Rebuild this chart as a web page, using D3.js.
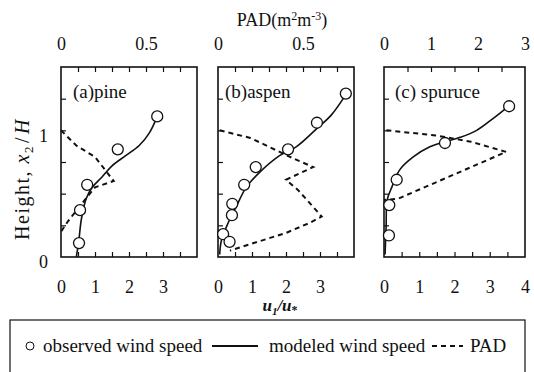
<!DOCTYPE html>
<html>
<head>
<meta charset="utf-8">
<script src="https://cdn.jsdelivr.net/npm/d3@7"></script>
<style>
  body { margin: 0; background: #fff; }
  svg { display: block; }
  text { font-family: "Liberation Serif", "Times New Roman", serif; fill: #111; }
</style>
</head>
<body>
<svg id="chart" width="534" height="372"></svg>
<script>
// panel titles and tick labels
var panelNames = ["(a)pine", "(b)aspen", "(c) spuruce"];
var uLabels = [[0, 1, 2, 3], [0, 1, 2, 3], [0, 1, 2, 3, 4]];
var uMinor = [0.5, 1, 1.5, 2, 2.5, 3, 3.5];
var padLabels = [[0, 0.5], [0, 0.5], [0, 1, 2, 3]];
var padMinor = [[0.1, 0.2, 0.3, 0.4, 0.5, 0.6, 0.7], [0.1, 0.2, 0.3, 0.4, 0.5, 0.6, 0.7], [0.5, 1, 1.5, 2, 2.5]];
var padMax = [0.8, 0.8, 3];
var heightLabels = [0, 1];
var heightMinor = [0.25, 0.5, 0.75, 1, 1.25];

// observed wind speed [u1/u*, x2/H]
var pineObs = [[2.83, 1.11], [1.67, 0.85], [0.77, 0.57], [0.56, 0.37], [0.53, 0.11]];
var aspenObs = [[3.76, 1.29], [2.91, 1.06], [2.06, 0.85], [1.11, 0.71], [0.77, 0.57], [0.42, 0.42], [0.41, 0.33], [0.15, 0.18], [0.34, 0.12]];
var spruceObs = [[3.55, 1.19], [1.73, 0.9], [0.36, 0.61], [0.15, 0.41], [0.14, 0.17]];

// modeled wind speed [u1/u*, x2/H]
var pineModel = [[0.45, 0.0], [0.52, 0.12], [0.6, 0.3], [0.74, 0.46], [0.92, 0.55], [1.2, 0.63], [1.5, 0.72], [1.9, 0.8], [2.3, 0.88], [2.6, 0.98], [2.8, 1.09]];
var aspenModel = [[0.05, 0.02], [0.1, 0.13], [0.3, 0.27], [0.54, 0.4], [0.83, 0.55], [1.23, 0.67], [1.81, 0.8], [2.3, 0.87], [2.89, 1.01], [3.33, 1.12], [3.73, 1.27]];
var spruceModel = [[0.03, 0.02], [0.06, 0.24], [0.09, 0.45], [0.22, 0.55], [0.45, 0.69], [0.83, 0.79], [1.3, 0.87], [1.73, 0.91], [2.16, 0.945], [2.63, 1.0], [3.1, 1.095], [3.53, 1.19]];

// PAD profiles [PAD, x2/H]
var pinePad = [[0, 1.0], [0.09, 0.88], [0.2, 0.79], [0.31, 0.6], [0.2, 0.55], [0.11, 0.4], [0.04, 0.28], [0, 0.2]];
var aspenPad = [[0.01, 1.0], [0.19, 0.94], [0.3, 0.87], [0.44, 0.78], [0.56, 0.71], [0.4, 0.61], [0.47, 0.53], [0.61, 0.32], [0.54, 0.27], [0.4, 0.19], [0.21, 0.11], [0.07, 0.05]];
var sprucePad = [[0.05, 1.0], [1.1, 0.96], [1.85, 0.91], [2.6, 0.83], [0.3, 0.46], [0, 0.45]];

var observed = [pineObs, aspenObs, spruceObs];
var modeled = [pineModel, aspenModel, spruceModel];
var pad = [pinePad, aspenPad, sprucePad];

(function () {
  var svg = d3.select("#chart");
  var plotTop = 67, plotBottom = 257;
  var lefts = [61, 218, 384], widths = [136, 136, 141];
  var nameOffsets = [12, 7, 11];

  var y = d3.scaleLinear().domain([0, 1.5]).range([plotBottom, plotTop]);

  function clean(g) {
    g.select(".domain").remove();
    g.selectAll("text").style("font-size", "18px").attr("fill", "#111");
    g.selectAll("line").attr("stroke", "#111").attr("stroke-width", 1.2);
  }

  panelNames.forEach(function (name, i) {
    var x = d3.scaleLinear().domain([0, 4]).range([lefts[i], lefts[i] + widths[i]]);
    var xp = d3.scaleLinear().domain([0, padMax[i]]).range([lefts[i], lefts[i] + widths[i]]);
    var g = svg.append("g");

    // inward ticks
    g.append("g").attr("transform", "translate(0," + plotBottom + ")")
      .call(d3.axisBottom(x).tickValues(uMinor).tickSize(-5).tickFormat("")).call(clean);
    g.append("g").attr("transform", "translate(0," + plotTop + ")")
      .call(d3.axisTop(xp).tickValues(padMinor[i]).tickSize(-5).tickFormat("")).call(clean);
    g.append("g").attr("transform", "translate(" + lefts[i] + ",0)")
      .call(d3.axisLeft(y).tickValues(heightMinor).tickSize(-5).tickFormat("")).call(clean);

    // tick labels
    g.append("g").attr("transform", "translate(0," + plotBottom + ")")
      .call(d3.axisBottom(x).tickValues(uLabels[i]).tickSize(0).tickPadding(23).tickFormat(d3.format("d"))).call(clean);
    g.append("g").attr("transform", "translate(0," + plotTop + ")")
      .call(d3.axisTop(xp).tickValues(padLabels[i]).tickSize(0).tickPadding(17).tickFormat(function (d) { return String(d); })).call(clean);
    if (i === 0) {
      g.append("g").attr("transform", "translate(" + lefts[i] + ",5)")
        .call(d3.axisLeft(y).tickValues(heightLabels).tickSize(0).tickPadding(13).tickFormat(d3.format("d"))).call(clean);
    }

    // frame
    g.append("rect").attr("x", lefts[i]).attr("y", plotTop).attr("width", widths[i]).attr("height", plotBottom - plotTop)
      .attr("fill", "none").attr("stroke", "#111").attr("stroke-width", 1.6);

    // PAD
    g.append("path").datum(pad[i])
      .attr("d", d3.line().x(function (d) { return xp(d[0]); }).y(function (d) { return y(d[1]); }))
      .attr("fill", "none").attr("stroke", "#111").attr("stroke-width", 2).attr("stroke-dasharray", "5,4");

    // modeled
    g.append("path").datum(modeled[i])
      .attr("d", d3.line().curve(d3.curveCatmullRom).x(function (d) { return x(d[0]); }).y(function (d) { return y(d[1]); }))
      .attr("fill", "none").attr("stroke", "#111").attr("stroke-width", 1.6);

    // observed
    g.selectAll("circle").data(observed[i]).join("circle")
      .attr("cx", function (d) { return x(d[0]); }).attr("cy", function (d) { return y(d[1]); })
      .attr("r", 5.5).attr("fill", "#fff").attr("stroke", "#111").attr("stroke-width", 1.3);

    g.append("text").attr("x", lefts[i] + nameOffsets[i]).attr("y", 98).style("font-size", "19px").text(name);
  });

  // axis titles
  var padTitle = svg.append("text").attr("x", 282).attr("y", 26).attr("text-anchor", "middle").style("font-size", "18px");
  padTitle.append("tspan").text("PAD(m");
  padTitle.append("tspan").attr("dy", -6).style("font-size", "12px").text("2");
  padTitle.append("tspan").attr("dy", 6).text("m");
  padTitle.append("tspan").attr("dy", -6).style("font-size", "12px").text("-3");
  padTitle.append("tspan").attr("dy", 6).text(")");

  var uTitle = svg.append("text").attr("x", 280).attr("y", 311).attr("text-anchor", "middle")
    .style("font-size", "17px").style("font-weight", "bold");
  uTitle.append("tspan").style("font-style", "italic").text("u");
  uTitle.append("tspan").attr("dy", 4).style("font-size", "11px").style("font-style", "italic").text("1");
  uTitle.append("tspan").attr("dy", -4).style("font-style", "italic").text("/u");
  uTitle.append("tspan").attr("dy", 3).style("font-size", "12px").text("*");

  var hTitle = svg.append("text").attr("transform", "translate(29,179) rotate(-90)").attr("text-anchor", "middle")
    .style("font-size", "20px").style("letter-spacing", "1.5px");
  hTitle.append("tspan").text("Height, ");
  hTitle.append("tspan").style("font-style", "italic").text("x");
  hTitle.append("tspan").attr("dy", 4).style("font-size", "13px").text("2");
  hTitle.append("tspan").attr("dy", -4).attr("dx", 2).text("/");
  hTitle.append("tspan").attr("dx", 2).style("font-style", "italic").text("H");

  // legend
  var legend = svg.append("g");
  legend.append("rect").attr("x", 10).attr("y", 320).attr("width", 515).attr("height", 70)
    .attr("fill", "none").attr("stroke", "#111").attr("stroke-width", 1.2);
  legend.append("circle").attr("cx", 30).attr("cy", 346).attr("r", 4).attr("fill", "#fff").attr("stroke", "#111");
  legend.append("text").attr("x", 43).attr("y", 352).style("font-size", "19px").text("observed wind speed");
  legend.append("line").attr("x1", 212).attr("x2", 258).attr("y1", 346).attr("y2", 346).attr("stroke", "#111").attr("stroke-width", 1.8);
  legend.append("text").attr("x", 269).attr("y", 352).style("font-size", "19px").text("modeled wind speed");
  legend.append("line").attr("x1", 432).attr("x2", 463).attr("y1", 346).attr("y2", 346).attr("stroke", "#111").attr("stroke-width", 1.8).attr("stroke-dasharray", "5,4");
  legend.append("text").attr("x", 470).attr("y", 352).style("font-size", "19px").text("PAD");
})();
</script>
</body>
</html>
